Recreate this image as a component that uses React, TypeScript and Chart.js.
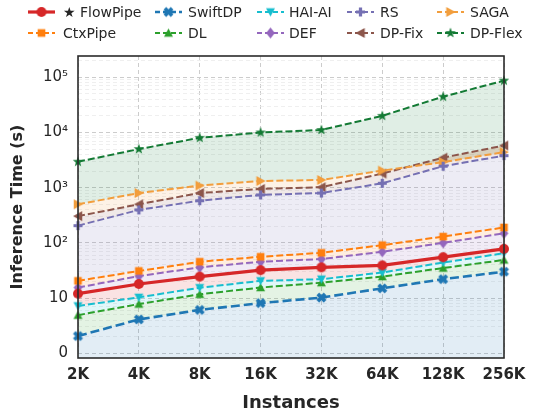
import React, { useEffect, useRef } from 'react';
import { Chart, registerables } from 'chart.js';

Chart.register(...registerables);

const categories = ['2K', '4K', '8K', '16K', '32K', '64K', '128K', '256K'];
const flowPipe = [12, 18, 24.5, 32, 36, 39, 55, 78];
const swiftDP = [2.05, 4.1, 6.1, 8.1, 10.2, 15, 22, 30];
const haiAI = [7.2, 10.3, 15.4, 20.5, 22, 29, 44, 65];
const rs = [205, 395, 580, 740, 800, 1200, 2450, 3800];
const saga = [500, 800, 1090, 1320, 1380, 2040, 2900, 4400];
const ctxPipe = [20.5, 31, 45.5, 56, 66, 91, 130, 190];
const dl = [4.9, 7.8, 11.7, 15.5, 19, 24.5, 35, 49];
const def = [15.5, 25, 36, 45.5, 51, 69, 100, 149];
const dpFix = [305, 500, 800, 950, 1020, 1800, 3500, 5800];
const dpFlex = [2950, 5000, 8000, 10000, 11100, 20000, 44500, 87000];

const yMajorValues = [1, 10, 100, 1000, 10000, 100000];
const yMajorLabels = ['0', '10', '10²', '10³', '10⁴', '10⁵'];

const TEXT = '#262626';
const FONT = '"DejaVu Sans", sans-serif';

function rgba(hex: string, a: number) {
  const n = parseInt(hex.slice(1), 16);
  return `rgba(${(n >> 16) & 255},${(n >> 8) & 255},${n & 255},${a})`;
}

function makeMarker(shape: string, color: string, size: number): HTMLCanvasElement {
  const c = document.createElement('canvas');
  const w = Math.ceil(size + 4);
  c.width = w;
  c.height = w;
  const g = c.getContext('2d') as CanvasRenderingContext2D;
  g.translate(w / 2, w / 2);
  g.fillStyle = color;
  g.strokeStyle = color;
  g.lineWidth = 1;
  g.lineJoin = 'miter';
  const r = size / 2;
  g.beginPath();
  const poly = (pts: number[][]) => {
    g.moveTo(pts[0][0], pts[0][1]);
    for (let i = 1; i < pts.length; i++) g.lineTo(pts[i][0], pts[i][1]);
    g.closePath();
  };
  switch (shape) {
    case 'circle':
      g.arc(0, 0, r, 0, Math.PI * 2);
      break;
    case 'square':
      g.rect(-r * 0.85, -r * 0.85, r * 1.7, r * 1.7);
      break;
    case 'triUp':
      poly([[0, -r], [-r, r * 0.85], [r, r * 0.85]]);
      break;
    case 'triDown':
      poly([[0, r], [-r, -r * 0.85], [r, -r * 0.85]]);
      break;
    case 'triRight':
      poly([[r, 0], [-r * 0.85, -r], [-r * 0.85, r]]);
      break;
    case 'triLeft':
      poly([[-r, 0], [r * 0.85, -r], [r * 0.85, r]]);
      break;
    case 'diamond':
      poly([[0, -r], [r * 0.8, 0], [0, r], [-r * 0.8, 0]]);
      break;
    case 'x': {
      const t = r * 0.42;
      for (const ang of [Math.PI / 4, -Math.PI / 4]) {
        g.save();
        g.rotate(ang);
        g.rect(-r * 1.15, -t, r * 2.3, t * 2);
        g.restore();
      }
      break;
    }
    case 'plus': {
      const t = r * 0.36;
      g.rect(-r, -t, 2 * r, 2 * t);
      g.rect(-t, -r, 2 * t, 2 * r);
      break;
    }
    case 'star': {
      const pts: number[][] = [];
      for (let i = 0; i < 10; i++) {
        const rad = i % 2 === 0 ? r * 1.1 : r * 0.45;
        const a = -Math.PI / 2 + (i * Math.PI) / 5;
        pts.push([rad * Math.cos(a), rad * Math.sin(a)]);
      }
      poly(pts);
      break;
    }
  }
  g.fill();
  return c;
}

type SeriesDef = {
  label: string;
  data: number[];
  color: string;
  marker: string;
  size: number;
  width: number;
  dash: number[];
  fillTo: number | string;
};

// legend order (row-wise): FlowPipe, SwiftDP, HAI-AI, RS, SAGA, CtxPipe, DL, DEF, DP-Fix, DP-Flex
const series: SeriesDef[] = [
  { label: '★ FlowPipe', data: flowPipe, color: '#d62728', marker: 'circle', size: 10, width: 3.2, dash: [], fillTo: 2 },
  { label: 'SwiftDP', data: swiftDP, color: '#1f77b4', marker: 'x', size: 9, width: 2.6, dash: [9, 4], fillTo: 'start' },
  { label: 'HAI-AI', data: haiAI, color: '#17becf', marker: 'triDown', size: 9, width: 2, dash: [7, 3], fillTo: 6 },
  { label: 'RS', data: rs, color: '#7570b3', marker: 'plus', size: 9, width: 2, dash: [7, 3], fillTo: 5 },
  { label: 'SAGA', data: saga, color: '#f29e3d', marker: 'triRight', size: 10, width: 2, dash: [7, 3], fillTo: 8 },
  { label: 'CtxPipe', data: ctxPipe, color: '#ff7f0e', marker: 'square', size: 9, width: 2, dash: [7, 3], fillTo: 7 },
  { label: 'DL', data: dl, color: '#2ca02c', marker: 'triUp', size: 9, width: 2, dash: [7, 3], fillTo: 1 },
  { label: 'DEF', data: def, color: '#9467bd', marker: 'diamond', size: 11, width: 2, dash: [7, 3], fillTo: 0 },
  { label: 'DP-Fix', data: dpFix, color: '#8c564b', marker: 'triLeft', size: 10, width: 2, dash: [7, 3], fillTo: 3 },
  { label: 'DP-Flex', data: dpFlex, color: '#137a34', marker: 'star', size: 10, width: 2, dash: [7, 3], fillTo: 4 },
];

const legendLineStart = [28, 155, 257, 347, 437];
const legendTextX = [63, 188, 289, 380, 470];
const legendRowY = [12, 33];

export default function App() {
  const ref = useRef<HTMLCanvasElement | null>(null);

  useEffect(() => {
    if (!ref.current) return;
    const markers = series.map((s) => makeMarker(s.marker, s.color, s.size));

    const minorTicks: number[] = [];
    for (let k = 0; k <= 5; k++) {
      for (let m = 1; m <= 9; m++) {
        const v = m * Math.pow(10, k);
        if (v <= 240000) minorTicks.push(v);
      }
    }
    const isMajor = (v: number) => Math.abs(Math.log10(v) - Math.round(Math.log10(v))) < 1e-9;

    const framePlugin = {
      id: 'frameAndLegend',
      afterDraw(chart: any) {
        const ctx = chart.ctx as CanvasRenderingContext2D;
        const a = chart.chartArea;
        ctx.save();
        ctx.strokeStyle = '#2b2b2b';
        ctx.lineWidth = 1.6;
        ctx.setLineDash([]);
        ctx.strokeRect(a.left, a.top, a.right - a.left, a.bottom - a.top);

        series.forEach((s, i) => {
          const col = i % 5;
          const row = Math.floor(i / 5);
          const y = legendRowY[row];
          const x0 = legendLineStart[col];
          const x1 = x0 + 27;
          ctx.beginPath();
          ctx.strokeStyle = s.color;
          ctx.lineWidth = s.width;
          ctx.setLineDash(s.dash.length ? [5, 3] : []);
          ctx.moveTo(x0, y);
          ctx.lineTo(x1, y);
          ctx.stroke();
          ctx.setLineDash([]);
          const img = markers[i];
          ctx.drawImage(img, (x0 + x1) / 2 - img.width / 2, y - img.height / 2);
          ctx.fillStyle = TEXT;
          ctx.font = `14px ${FONT}`;
          ctx.textBaseline = 'middle';
          ctx.textAlign = 'left';
          ctx.fillText(s.label, legendTextX[col], y + 1);
        });
        ctx.restore();
      },
    };

    const chart = new Chart(ref.current, {
      type: 'line',
      data: {
        labels: categories,
        datasets: series.map((s, i) => ({
          label: s.label,
          data: s.data,
          borderColor: s.color,
          backgroundColor: rgba(s.color, 0.13),
          borderWidth: s.width,
          borderDash: s.dash,
          pointStyle: markers[i] as any,
          pointRadius: s.size / 2,
          pointHoverRadius: s.size / 2,
          fill: s.fillTo as any,
          tension: 0,
          order: i === 0 ? 0 : 1,
        })),
      },
      options: {
        animation: false,
        responsive: true,
        maintainAspectRatio: false,
        events: [],
        layout: { padding: { top: 56, right: 48, left: 0, bottom: 0 } },
        plugins: {
          legend: { display: false },
          tooltip: { enabled: false },
          filler: { drawTime: 'beforeDatasetsDraw' } as any,
        },
        scales: {
          x: {
            type: 'category',
            offset: false,
            afterFit: (s: any) => {
              s.height = 56;
            },
            grid: { color: '#cccccc', lineWidth: 1, drawTicks: false },
            border: { display: false, dash: [4, 3] },
            ticks: {
              color: TEXT,
              font: { family: FONT, size: 15, weight: 'bold' },
              padding: 8,
              maxRotation: 0,
              autoSkip: false,
            },
            title: {
              display: true,
              text: 'Instances',
              color: TEXT,
              font: { family: FONT, size: 18, weight: 'bold' },
              padding: { top: 0, bottom: 0 },
            },
          },
          y: {
            type: 'logarithmic',
            min: 0.82,
            max: 243000,
            afterBuildTicks: (s: any) => {
              s.ticks = minorTicks.map((v) => ({ value: v, major: isMajor(v) }));
            },
            afterFit: (s: any) => {
              s.width = 78;
            },
            grid: {
              color: (c: any) => (c.tick && isMajor(c.tick.value) ? '#cccccc' : '#ebebeb'),
              lineWidth: (c: any) => (c.tick && isMajor(c.tick.value) ? 1 : 0.8),
              drawTicks: false,
            },
            border: { display: false, dash: [4, 3] },
            ticks: {
              autoSkip: false,
              color: TEXT,
              font: { family: FONT, size: 15 },
              padding: 10,
              callback: (v: any) => {
                const idx = yMajorValues.findIndex((m) => Math.abs(m - Number(v)) < 1e-6 * m);
                return idx >= 0 ? yMajorLabels[idx] : '';
              },
            },
            title: {
              display: true,
              text: 'Inference Time (s)',
              color: TEXT,
              font: { family: FONT, size: 16, weight: 'bold' },
              padding: { top: 8, bottom: 0 },
            },
          },
        },
      },
      plugins: [framePlugin],
    });

    return () => chart.destroy();
  }, []);

  return (
    <div style={{ position: 'absolute', left: 0, top: 0, width: 552, height: 414, background: '#ffffff' }}>
      <canvas ref={ref} />
    </div>
  );
}
